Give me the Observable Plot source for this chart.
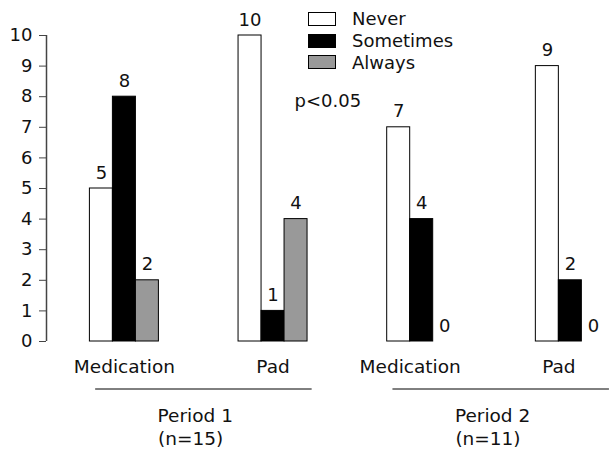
<!DOCTYPE html>
<html><head><meta charset="utf-8">
<script src="https://cdn.jsdelivr.net/npm/d3@7"></script>
<script src="https://cdn.jsdelivr.net/npm/@observablehq/plot@0.6"></script>
<style>
body{margin:0;background:#fff;}
#wrap{position:relative;width:610px;height:452px;font-family:"DejaVu Sans",sans-serif;}
#legend{position:absolute;left:308px;top:8px;font-size:18px;color:#111;}
.row{display:flex;align-items:center;height:21.8px;}
.sw{width:28px;height:14px;box-sizing:border-box;border:1px solid #000;margin-right:16px;}
</style></head><body><div id="wrap"><div id="legend"></div></div>
<script>
// ---- data ----
const groups = ["Medication", "Pad", "Medication", "Pad"];
const groupPeriod = [0, 0, 1, 1];
const periodLabels = ["Period 1", "Period 2"];
const periodN = ["(n=15)", "(n=11)"];
const responses = ["Never", "Sometimes", "Always"];
const never = [5, 10, 7, 9];
const sometimes = [8, 1, 4, 2];
const always = [2, 4, 0, 0];
const yTicks = [0, 1, 2, 3, 4, 5, 6, 7, 8, 9, 10];
const pText = "p<0.05";
const colors = ["#ffffff", "#000000", "#999999"];

// ---- layout (x in bar-width units) ----
const W = 610, H = 452, ML = 46, MT = 35, MB = 111;
const barPx = 23;
const firstStart = 1.887, groupStep = 6.463;
const start = g => firstStart + g * groupStep;

const series = [never, sometimes, always];
const rows = [];
groups.forEach((gname, g) => {
  responses.forEach((r, c) => {
    rows.push({g, c, resp: r, value: series[c][g], x1: start(g) + c, x2: start(g) + c + 1});
  });
});
const groupRows = groups.map((name, g) => {
  const nz = rows.filter(d => d.g === g && d.value > 0).map(d => d.c);
  return {name, x: start(g) + (d3.min(nz) + d3.max(nz) + 1) / 2};
});
const periodRows = periodLabels.map((label, p) => {
  const gs = groups.map((_, g) => g).filter(g => groupPeriod[g] === p);
  const s = start(d3.min(gs)), e = start(d3.max(gs)) + responses.length;
  return {label, n: periodN[p], x1: s + 0.25, x2: e + 0.2, x: (s + e) / 2 - 0.15, xn: (s + e) / 2 - 0.35};
});

const font = "DejaVu Sans";
const chart = Plot.plot({
  width: W, height: H,
  marginLeft: ML, marginRight: 0, marginTop: MT, marginBottom: MB,
  style: {fontFamily: font, fontSize: "18px", background: "#fff", color: "#111", overflow: "visible"},
  x: {domain: [0, (W - ML) / barPx], axis: null},
  y: {domain: [0, 10]},
  color: {domain: responses, range: colors},
  marks: [
    Plot.rectY(rows.filter(d => d.value > 0), {x1: "x1", x2: "x2", y: "value", fill: "resp", stroke: "#000", strokeWidth: 1}),
    Plot.text(rows, {x: d => d.x1 + 0.5, y: "value", text: d => String(d.value), lineAnchor: "bottom", dy: -10, fill: "#111", fontSize: 18}),
    Plot.ruleX([0], {y1: 0, y2: 10, stroke: "#444", strokeWidth: 1.5}),
    Plot.axisY(yTicks, {tickSize: 7, tickPadding: 7, fontSize: 18, stroke: "#444", fill: "#111", label: null}),
    Plot.text(groupRows, {x: "x", y: () => 0, text: "name", dy: 26, lineAnchor: "middle", fill: "#111", fontSize: 18.5}),
    Plot.ruleY(periodRows, {y: () => 0, x1: "x1", x2: "x2", dy: 47.5, stroke: "#000", strokeWidth: 1}),
    Plot.text(periodRows, {x: "x", y: () => 0, text: "label", dy: 75, lineAnchor: "middle", fill: "#111", fontSize: 18.5}),
    Plot.text(periodRows, {x: "xn", y: () => 0, text: "n", dy: 98, lineAnchor: "middle", fill: "#111", fontSize: 18.5}),
    Plot.text([pText], {frameAnchor: "top-left", textAnchor: "start", dx: 248, dy: 66, lineAnchor: "middle", fill: "#111", fontSize: 18})
  ]
});
const wrap = document.getElementById("wrap");
wrap.insertBefore(chart, wrap.firstChild);

const legend = document.getElementById("legend");
responses.forEach((r, i) => {
  const row = document.createElement("div");
  row.className = "row";
  const sw = document.createElement("div");
  sw.className = "sw";
  sw.style.background = colors[i];
  const t = document.createElement("span");
  t.textContent = r;
  row.appendChild(sw); row.appendChild(t);
  legend.appendChild(row);
});
</script></body></html>
